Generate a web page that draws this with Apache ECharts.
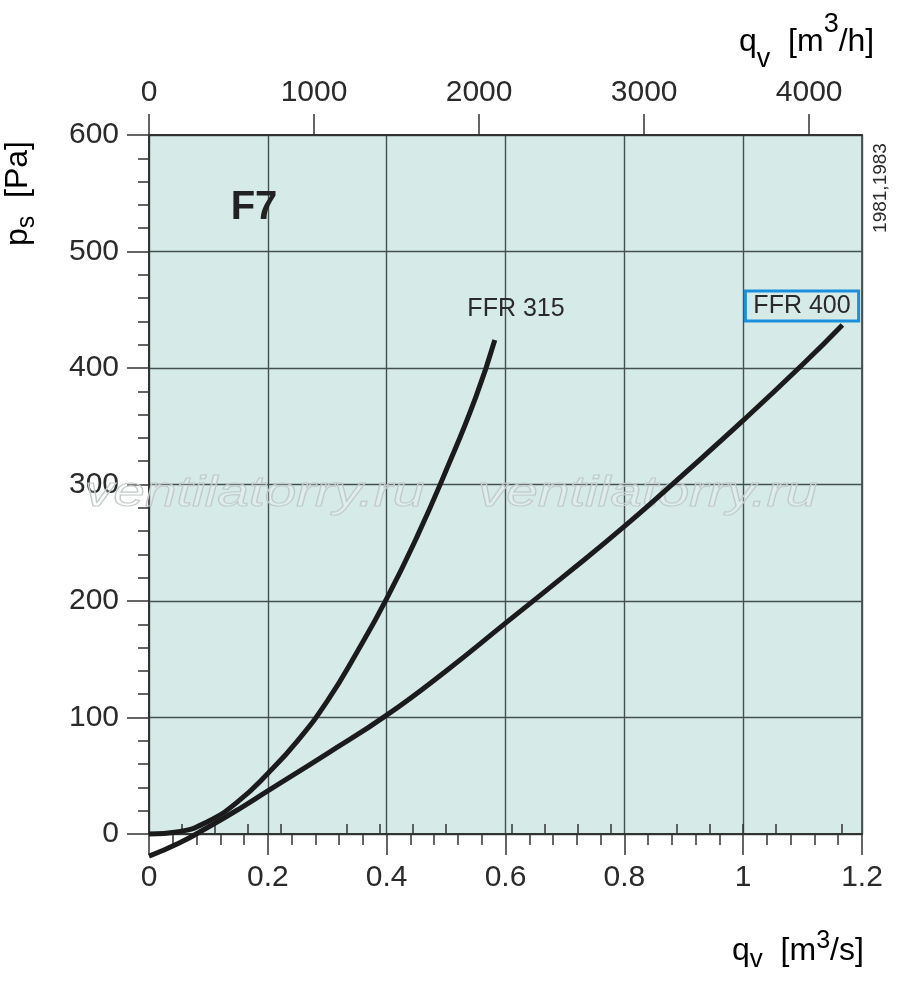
<!DOCTYPE html>
<html>
<head>
<meta charset="utf-8">
<title>F7 - FFR 315 / FFR 400</title>
<script src="https://cdn.jsdelivr.net/npm/echarts@6/dist/echarts.min.js"></script>
<style>
  html, body { margin: 0; padding: 0; background: #fff; }
  #main { width: 900px; height: 983px; }
</style>
</head>
<body>
<div id="main"></div>
<script type="text/javascript">
    // air flow q_v [m3/s] and static pressure p_s [Pa]
    var flow315 = [0, 0.05, 0.1, 0.15, 0.2, 0.25, 0.3, 0.35, 0.4, 0.45, 0.5, 0.55, 0.582];
    var ps315   = [0, 2, 11, 28, 52, 80, 114, 156, 202, 254, 312, 375, 424];

    var flow400 = [0, 0.05, 0.1, 0.15, 0.2, 0.3, 0.4, 0.5, 0.6, 0.7, 0.8, 0.9, 1.0, 1.1, 1.167];
    var ps400   = [-19, -8, 6, 21, 37, 69, 102, 140, 181, 222, 264, 309, 355, 403, 437];

    // top axis in m3/h
    var topLabels = [0, 1000, 2000, 3000, 4000];
    var topMinor  = [200, 400, 600, 800, 1200, 1400, 1600, 1800, 2200, 2400, 2600, 2800,
                     3200, 3400, 3600, 3800, 4200];

    function zip(xs, ys) {
        var out = [];
        for (var i = 0; i < xs.length; i++) out.push([xs[i], ys[i]]);
        return out;
    }

    var FONT = "'Liberation Sans', Arial, sans-serif";
    var TXT = '#2a2a2a';
    var AXIS = '#333';
    var GRIDC = '#45514f';

    var chart = echarts.init(document.getElementById('main'));

    function richName(main, sub, sup, lh) {
        return {
            n: { fontSize: main, fontFamily: FONT, color: TXT, lineHeight: lh, verticalAlign: 'middle' },
            s: { fontSize: sub, fontFamily: FONT, color: TXT, verticalAlign: 'bottom' },
            p: { fontSize: sup, fontFamily: FONT, color: TXT, verticalAlign: 'top' }
        };
    }

    var option = {
        animation: false,
        backgroundColor: '#fff',
        grid: {
            left: 149, right: 38, top: 135, bottom: 149,
            show: true,
            backgroundColor: '#d6eae8',
            borderColor: AXIS,
            borderWidth: 1.5,
            containLabel: false,
            outerBoundsMode: 'none'
        },
        xAxis: [{
            type: 'value', position: 'bottom',
            min: 0, max: 1.2, interval: 0.2,
            axisLine: { show: true, onZero: false, lineStyle: { color: AXIS, width: 2 } },
            axisTick: { show: true, inside: false, length: 21, lineStyle: { color: AXIS, width: 1.5 } },
            minorTick: { show: true, splitNumber: 5, length: 11, lineStyle: { color: AXIS, width: 1.5 } },
            splitLine: { show: true, lineStyle: { color: GRIDC, width: 1.4 } },
            axisLabel: { fontSize: 30, fontFamily: FONT, color: TXT, margin: 29,
                         formatter: function (v) { return String(+v.toFixed(1)); } }
        }, {
            type: 'value', position: 'top',
            min: 0, max: 4320,
            axisLine: { show: true, onZero: false, lineStyle: { color: AXIS, width: 2 } },
            axisTick: { show: true, length: 21, customValues: topLabels, lineStyle: { color: AXIS, width: 1.5 } },
            splitLine: { show: false },
            axisLabel: { fontSize: 30, fontFamily: FONT, color: TXT, margin: 27,
                         customValues: topLabels,
                         formatter: function (v) { return String(v); } }
        }, {
            type: 'value', position: 'top',
            min: 0, max: 4320,
            axisLine: { show: false },
            axisTick: { show: true, length: 10, customValues: topMinor, lineStyle: { color: AXIS, width: 1.5 } },
            splitLine: { show: false },
            axisLabel: { show: false }
        }],
        yAxis: {
            type: 'value',
            min: 0, max: 600, interval: 100,
            axisLine: { show: true, onZero: false, lineStyle: { color: AXIS, width: 2 } },
            axisTick: { show: true, length: 22, lineStyle: { color: AXIS, width: 1.5 } },
            minorTick: { show: true, splitNumber: 5, length: 11, lineStyle: { color: AXIS, width: 1.5 } },
            splitLine: { show: true, lineStyle: { color: GRIDC, width: 1.4 } },
            axisLabel: { fontSize: 30, fontFamily: FONT, color: TXT, margin: 30 }
        },
        series: [{
            name: 'FFR 315', type: 'line', xAxisIndex: 0,
            data: zip(flow315, ps315),
            smooth: 0.5, showSymbol: false, symbol: 'none', clip: false,
            lineStyle: { color: '#1b1b1b', width: 5 }, z: 5
        }, {
            name: 'FFR 400', type: 'line', xAxisIndex: 0,
            data: zip(flow400, ps400),
            smooth: 0.5, showSymbol: false, symbol: 'none', clip: false,
            lineStyle: { color: '#1b1b1b', width: 5 }, z: 5
        }],
        graphic: [
            // watermark
            { type: 'text', x: 85, y: 494, scaleX: 1.35, z: 1, silent: true,
              style: { text: 'ventilatorry.ru', font: 'italic 42px ' + FONT, fill: 'rgba(255,255,255,0.2)',
                       stroke: '#bcc6c5', lineWidth: 1.1, textAlign: 'left', textVerticalAlign: 'middle' } },
            { type: 'text', x: 478, y: 494, scaleX: 1.35, z: 1, silent: true,
              style: { text: 'ventilatorry.ru', font: 'italic 42px ' + FONT, fill: 'rgba(255,255,255,0.2)',
                       stroke: '#bcc6c5', lineWidth: 1.1, textAlign: 'left', textVerticalAlign: 'middle' } },
            // chart id
            { type: 'text', x: 254, y: 208, z: 10,
              style: { text: 'F7', font: 'bold 40px ' + FONT, fill: '#222', textAlign: 'center', textVerticalAlign: 'middle' } },
            // curve names
            { type: 'text', x: 516, y: 309, z: 10,
              style: { text: 'FFR 315', font: '25px ' + FONT, fill: TXT, textAlign: 'center', textVerticalAlign: 'middle' } },
            { type: 'text', x: 802, y: 306, z: 10,
              style: { text: 'FFR 400', font: '25px ' + FONT, fill: TXT, textAlign: 'center', textVerticalAlign: 'middle',
                       borderColor: '#1a8fdb', borderWidth: 3, padding: [3, 8, 2, 8] } },
            // side note
            { type: 'text', x: 881, y: 188, rotation: Math.PI / 2, z: 10,
              style: { text: '1981,1983', font: '19px ' + FONT, fill: TXT, textAlign: 'center', textVerticalAlign: 'middle' } },
            // axis names
            { type: 'text', x: 739, y: 42, z: 10,
              style: { text: '{n|q}{s|v}{n|  [m}{p|3}{n|/h]}', rich: richName(32, 27, 27, 62),
                       textAlign: 'left', textVerticalAlign: 'middle' } },
            { type: 'text', x: 732, y: 951, z: 10,
              style: { text: '{n|q}{s|v}{n|  [m}{p|3}{n|/s]}', rich: richName(32, 26, 25, 44),
                       textAlign: 'left', textVerticalAlign: 'middle' } },
            { type: 'text', x: 18, y: 246, rotation: Math.PI / 2, z: 10,
              style: { text: '{n|p}{s|s}{n|  [Pa]}', rich: richName(32, 25, 25, 44),
                       textAlign: 'left', textVerticalAlign: 'middle' } }
        ]
    };

    chart.setOption(option);
</script>
</body>
</html>
